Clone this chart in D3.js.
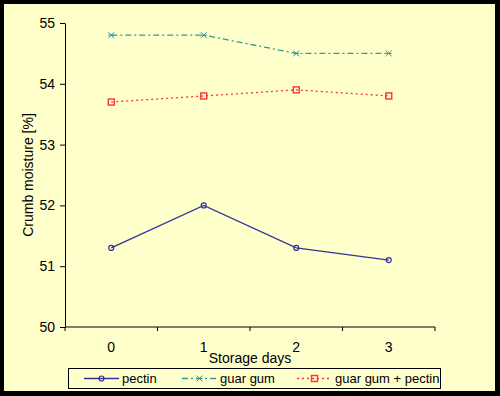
<!DOCTYPE html>
<html>
<head>
<meta charset="utf-8">
<script src="https://cdn.jsdelivr.net/npm/d3@7"></script>
<style>
  body { margin: 0; background: #000; }
  svg { display: block; font-family: "Liberation Sans", Arial, sans-serif; }
</style>
</head>
<body>
<svg id="chart" width="500" height="396"></svg>
<script>
const days = ['0', '1', '2', '3'];
const pectin = [51.3, 52.0, 51.3, 51.1];
const guarGum = [54.8, 54.8, 54.5, 54.5];
const guarPectin = [53.7, 53.8, 53.9, 53.8];
const yTicks = [50, 51, 52, 53, 54, 55];

const series = [
  { name: 'pectin', values: pectin, color: '#333399', dash: null, marker: 'circle' },
  { name: 'guar gum', values: guarGum, color: '#339999', dash: '6,3,2,3', marker: 'x' },
  { name: 'guar gum + pectin', values: guarPectin, color: '#ff3333', dash: '2,3', marker: 'square' },
];

const svg = d3.select('#chart');

// black frame + pale yellow background
svg.append('rect').attr('width', 500).attr('height', 396).attr('fill', '#000');
svg.append('rect').attr('x', 4).attr('y', 4).attr('width', 491).attr('height', 387).attr('fill', '#ffffcc');

const margin = { left: 65, top: 23, right: 435, bottom: 327 };

const x = d3.scaleBand().domain(days).range([margin.left, margin.right]);
const y = d3.scaleLinear().domain([50, 55]).range([margin.bottom, margin.top]);

// Y axis
const yAxis = svg.append('g')
  .attr('transform', `translate(${margin.left},0)`)
  .call(d3.axisLeft(y).tickValues(yTicks).tickFormat(d3.format('d')).tickSize(5).tickPadding(5).tickSizeOuter(0));
yAxis.selectAll('text').style('font-size', '14px').style('font-family', 'Liberation Sans, Arial').attr('fill', '#000');
yAxis.select('.domain').attr('stroke', '#000');

// X axis, ticks on band boundaries
const xAxis = svg.append('g').attr('transform', `translate(0,${margin.bottom})`);
xAxis.append('line').attr('x1', margin.left).attr('x2', margin.right).attr('stroke', '#000');
const bounds = days.map(d => x(d)).concat([x(days[days.length - 1]) + x.bandwidth()]);
xAxis.selectAll('.tick').data(bounds).enter().append('line')
  .attr('x1', d => d).attr('x2', d => d).attr('y1', 0).attr('y2', 4).attr('stroke', '#000');
xAxis.selectAll('.lbl').data(days).enter().append('text')
  .attr('x', d => x(d) + x.bandwidth() / 2).attr('y', 25)
  .attr('text-anchor', 'middle').style('font-size', '14px').text(d => d);

// axis titles
svg.append('text').attr('x', (margin.left + margin.right) / 2).attr('y', 363)
  .attr('text-anchor', 'middle').style('font-size', '14px').text('Storage days');
svg.append('text')
  .attr('transform', `translate(33,${(margin.top + margin.bottom) / 2}) rotate(-90)`)
  .attr('text-anchor', 'middle').style('font-size', '14px').text('Crumb moisture [%]');

function drawMarker(g, type, cx, cy, color) {
  if (type === 'circle') {
    g.append('circle').attr('cx', cx).attr('cy', cy).attr('r', 2.5)
      .attr('fill', 'none').attr('stroke', color).attr('stroke-width', 1.2);
  } else if (type === 'square') {
    g.append('rect').attr('x', cx - 3).attr('y', cy - 3).attr('width', 6).attr('height', 6)
      .attr('fill', 'none').attr('stroke', color).attr('stroke-width', 1.4);
  } else {
    g.append('path').attr('d', `M${cx - 3},${cy - 3}L${cx + 3},${cy + 3}M${cx - 3},${cy + 3}L${cx + 3},${cy - 3}M${cx - 3},${cy}L${cx + 3},${cy}`)
      .attr('stroke', color).attr('stroke-width', 1);
  }
}

const line = d3.line()
  .x((d, i) => x(days[i]) + x.bandwidth() / 2)
  .y(d => y(d));

series.forEach(s => {
  const g = svg.append('g');
  g.append('path').datum(s.values).attr('d', line)
    .attr('fill', 'none').attr('stroke', s.color).attr('stroke-width', 1.3)
    .attr('stroke-dasharray', s.dash);
  s.values.forEach((v, i) => drawMarker(g, s.marker, x(days[i]) + x.bandwidth() / 2, y(v), s.color));
});

// legend
const legend = svg.append('g');
legend.append('rect').attr('x', 68.5).attr('y', 368.5).attr('width', 372).attr('height', 20)
  .attr('fill', 'none').attr('stroke', '#000');
const legendX = [84, 182, 297];
series.forEach((s, i) => {
  const lx = legendX[i];
  legend.append('line').attr('x1', lx).attr('x2', lx + 35).attr('y1', 378.5).attr('y2', 378.5)
    .attr('stroke', s.color).attr('stroke-width', 1.3).attr('stroke-dasharray', s.dash);
  drawMarker(legend, s.marker, lx + 17.5, 378.5, s.color);
  legend.append('text').attr('x', lx + 38).attr('y', 383).style('font-size', '13px').text(s.name);
});
</script>
</body>
</html>
